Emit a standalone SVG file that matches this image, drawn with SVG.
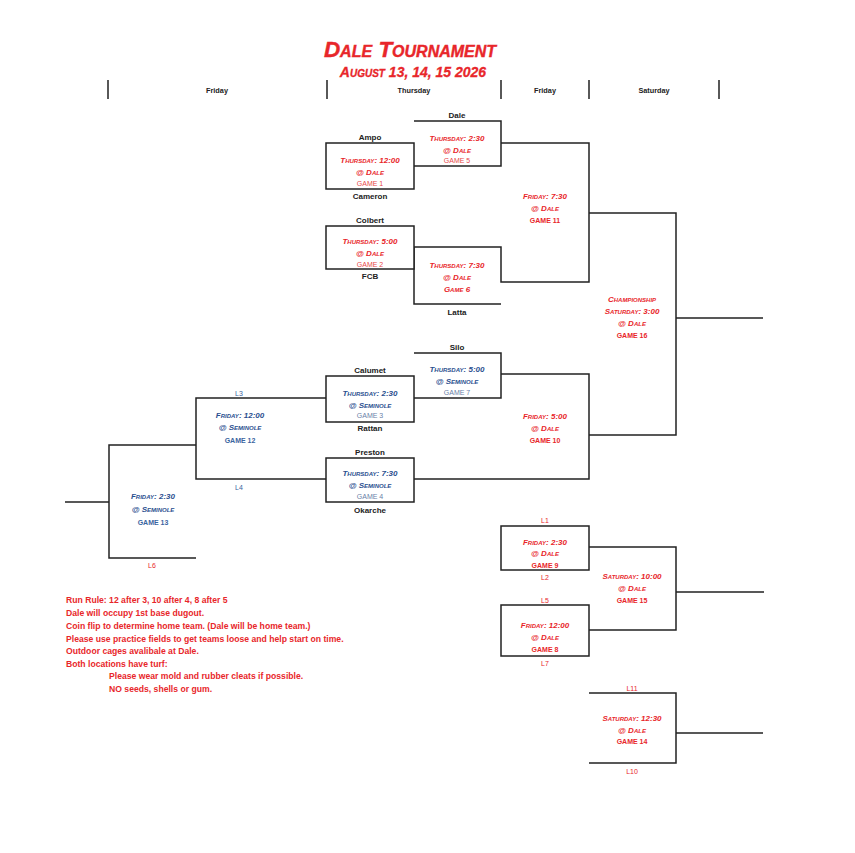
<svg xmlns="http://www.w3.org/2000/svg" width="855" height="853" viewBox="0 0 855 853">
<style>
text{font-family:"Liberation Sans",Arial,sans-serif;text-anchor:middle}
.ln{stroke:#222;stroke-width:1.5;fill:none}
.box{stroke:#222;stroke-width:1.5;fill:#fff}
.hd{font-size:7.3px;font-weight:bold;fill:#222}
.tm{font-size:8px;font-weight:bold;fill:#222}
.sr{font-size:8px;font-weight:bold;font-style:italic;font-variant:small-caps;fill:#e8262a}
.sb{font-size:8px;font-weight:bold;font-style:italic;font-variant:small-caps;fill:#2a4f8f}
.gr{font-size:7px;fill:#e8474a}
.grb{font-size:7px;font-weight:bold;fill:#e8262a}
.gb{font-size:7px;fill:#6a7fa8}
.gbb{font-size:7px;font-weight:bold;fill:#3a64a0}
.lr{font-size:7px;fill:#e8262a}
.lb{font-size:7px;fill:#3a64a0}
.nt{font-size:8.65px;font-weight:bold;fill:#e8262a;text-anchor:start}
</style>
<rect width="855" height="853" fill="#fff"/>
<g id="title">
<text x="410" y="57" style="font-size:22.5px;font-weight:bold;font-style:italic;font-variant:small-caps;fill:#e8262a;stroke:#e8262a;stroke-width:0.4">Dale Tournament</text>
<text x="413" y="77" style="font-size:14px;font-weight:bold;font-style:italic;font-variant:small-caps;fill:#e8262a;stroke:#e8262a;stroke-width:0.3">August 13, 14, 15 2026</text>
</g>
<g id="header">
<path class="ln" d="M108,80V99M327,80V99M501,80V99M589,80V99M719,80V99"/>
<text class="hd" x="217" y="93">Friday</text>
<text class="hd" x="414" y="93">Thursday</text>
<text class="hd" x="545" y="93">Friday</text>
<text class="hd" x="654" y="93">Saturday</text>
</g>
<g id="connectors">
<path class="ln" d="M414,121H501V166H414M501,143H589V282H501V247H414V304H501"/>
<path class="ln" d="M589,213H676V435H589M676,318H763"/>
<path class="ln" d="M414,353H501V398H414M501,374H589V479H414"/>
<path class="ln" d="M326,398H196V479H326M196,445H109V558H196M109,502H65"/>
<path class="ln" d="M589,547H676V630H589M676,592H764"/>
<path class="ln" d="M589,693H676V763H589M676,733H763"/>
</g>
<g id="game1">
<rect class="box" x="326" y="143" width="88" height="46"/>
<text class="tm" x="370" y="140">Ampo</text>
<text class="tm" x="370" y="199">Cameron</text>
<text class="sr" x="370" y="163">Thursday: 12:00</text>
<text class="sr" x="370" y="175">@ Dale</text>
<text class="gr" x="370" y="186">GAME 1</text>
</g>
<g id="game5">
<text class="tm" x="457" y="118">Dale</text>
<text class="sr" x="457" y="141">Thursday: 2:30</text>
<text class="sr" x="457" y="153">@ Dale</text>
<text class="gr" x="457" y="163">GAME 5</text>
</g>
<g id="game2">
<rect class="box" x="326" y="226" width="88" height="43"/>
<text class="tm" x="370" y="223">Colbert</text>
<text class="tm" x="370" y="279">FCB</text>
<text class="sr" x="370" y="244">Thursday: 5:00</text>
<text class="sr" x="370" y="256">@ Dale</text>
<text class="gr" x="370" y="267">GAME 2</text>
</g>
<g id="game6">
<text class="tm" x="457" y="315">Latta</text>
<text class="sr" x="457" y="268">Thursday: 7:30</text>
<text class="sr" x="457" y="280">@ Dale</text>
<text class="sr" x="457" y="292">Game 6</text>
</g>
<g id="game11">
<text class="sr" x="545" y="199">Friday: 7:30</text>
<text class="sr" x="545" y="211">@ Dale</text>
<text class="grb" x="545" y="223">GAME 11</text>
</g>
<g id="game16">
<text class="sr" x="632" y="302">Championship</text>
<text class="sr" x="632" y="314">Saturday: 3:00</text>
<text class="sr" x="632" y="326">@ Dale</text>
<text class="grb" x="632" y="338">GAME 16</text>
</g>
<g id="game7">
<text class="tm" x="457" y="350">Silo</text>
<text class="sb" x="457" y="372">Thursday: 5:00</text>
<text class="sb" x="457" y="384">@ Seminole</text>
<text class="gb" x="457" y="395">GAME 7</text>
</g>
<g id="game3">
<rect class="box" x="326" y="376" width="88" height="46"/>
<text class="tm" x="370" y="373">Calumet</text>
<text class="tm" x="370" y="431">Rattan</text>
<text class="sb" x="370" y="396">Thursday: 2:30</text>
<text class="sb" x="370" y="408">@ Seminole</text>
<text class="gb" x="370" y="418">GAME 3</text>
</g>
<g id="game4">
<rect class="box" x="326" y="458" width="88" height="44"/>
<text class="tm" x="370" y="455">Preston</text>
<text class="tm" x="370" y="513">Okarche</text>
<text class="sb" x="370" y="476">Thursday: 7:30</text>
<text class="sb" x="370" y="488">@ Seminole</text>
<text class="gb" x="370" y="499">GAME 4</text>
</g>
<g id="game10">
<text class="sr" x="545" y="419">Friday: 5:00</text>
<text class="sr" x="545" y="431">@ Dale</text>
<text class="grb" x="545" y="443">GAME 10</text>
</g>
<g id="game12">
<text class="lb" x="239" y="396">L3</text>
<text class="lb" x="239" y="490">L4</text>
<text class="sb" x="240" y="418">Friday: 12:00</text>
<text class="sb" x="240" y="430">@ Seminole</text>
<text class="gbb" x="240" y="443">GAME 12</text>
</g>
<g id="game13">
<text class="sb" x="153" y="499">Friday: 2:30</text>
<text class="sb" x="153" y="512">@ Seminole</text>
<text class="gbb" x="153" y="525">GAME 13</text>
<text class="lr" x="152" y="568">L6</text>
</g>
<g id="game9">
<rect class="box" x="501" y="526" width="88" height="44"/>
<text class="lr" x="545" y="523">L1</text>
<text class="lr" x="545" y="580">L2</text>
<text class="sr" x="545" y="545">Friday: 2:30</text>
<text class="sr" x="545" y="556">@ Dale</text>
<text class="grb" x="545" y="568">GAME 9</text>
</g>
<g id="game8">
<rect class="box" x="501" y="605" width="88" height="51"/>
<text class="lr" x="545" y="603">L5</text>
<text class="lr" x="545" y="666">L7</text>
<text class="sr" x="545" y="628">Friday: 12:00</text>
<text class="sr" x="545" y="640">@ Dale</text>
<text class="grb" x="545" y="652">GAME 8</text>
</g>
<g id="game15">
<text class="sr" x="632" y="579">Saturday: 10:00</text>
<text class="sr" x="632" y="591">@ Dale</text>
<text class="grb" x="632" y="603">GAME 15</text>
</g>
<g id="game14">
<text class="lr" x="632" y="691">L11</text>
<text class="lr" x="632" y="774">L10</text>
<text class="sr" x="632" y="721">Saturday: 12:30</text>
<text class="sr" x="632" y="733">@ Dale</text>
<text class="grb" x="632" y="744">GAME 14</text>
</g>
<g id="notes">
<text class="nt" x="66" y="603">Run Rule: 12 after 3, 10 after 4, 8 after 5</text>
<text class="nt" x="66" y="616">Dale will occupy 1st base dugout.</text>
<text class="nt" x="66" y="629">Coin flip to determine home team. (Dale will be home team.)</text>
<text class="nt" x="66" y="642">Please use practice fields to get teams loose and help start on time.</text>
<text class="nt" x="66" y="654">Outdoor cages avalibale at Dale.</text>
<text class="nt" x="66" y="667">Both locations have turf:</text>
<text class="nt" x="109" y="679">Please wear mold and rubber cleats if possible.</text>
<text class="nt" x="109" y="692">NO seeds, shells or gum.</text>
</g>
</svg>
